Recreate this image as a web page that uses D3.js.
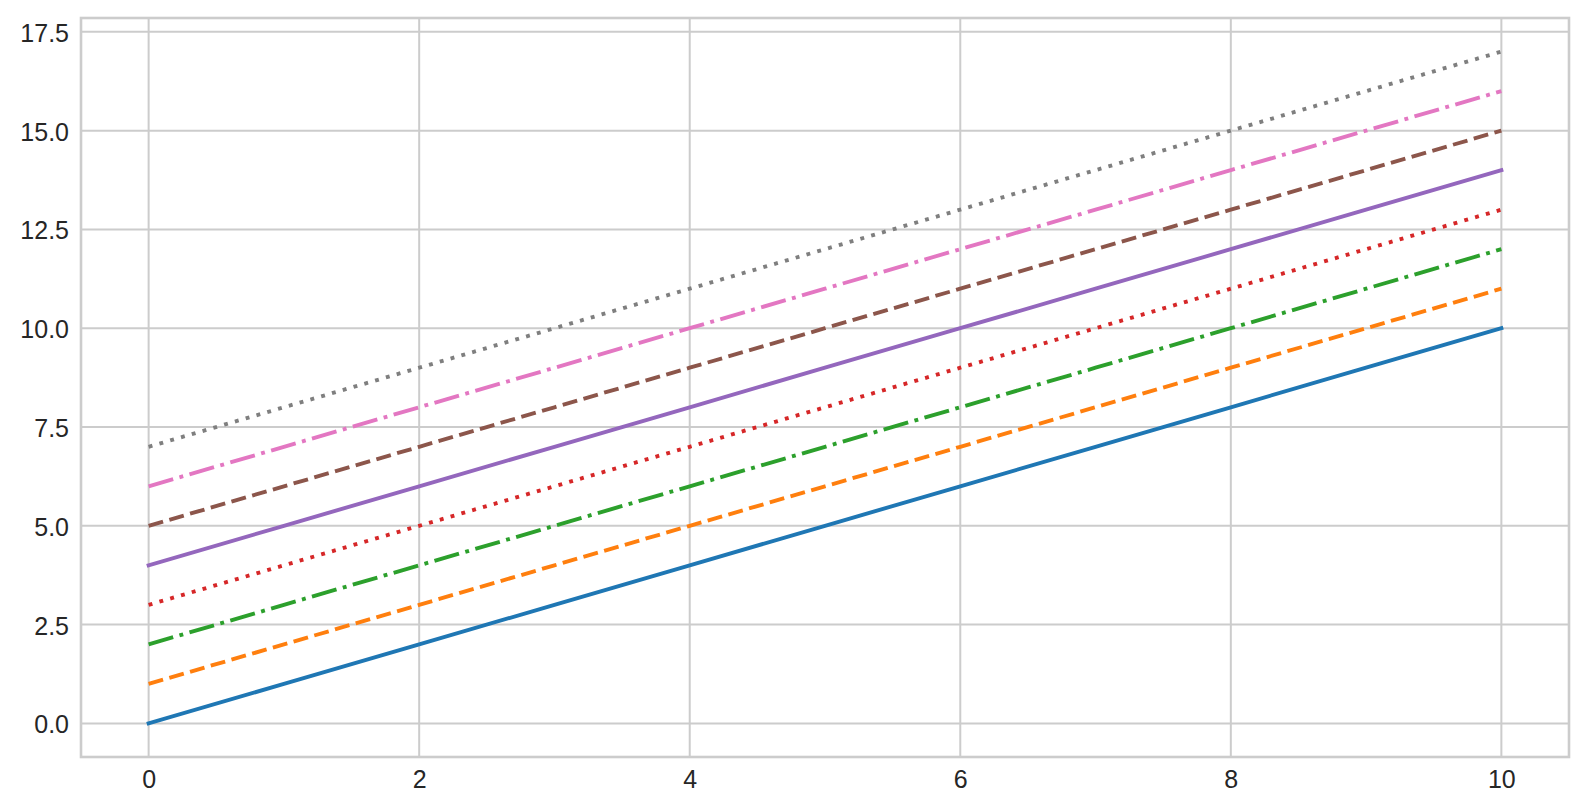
<!DOCTYPE html>
<html>
<head>
<meta charset="utf-8">
<script src="https://cdn.jsdelivr.net/npm/d3@7"></script>
<style>
  html, body { margin: 0; padding: 0; background: #fff; }
  svg { display: block; }
  text { font-family: "Liberation Sans", Arial, sans-serif; }
</style>
</head>
<body>
<svg id="chart" width="1587" height="810"></svg>
<script>
// ---- data ----
const xValues = [0, 1, 2, 3, 4, 5, 6, 7, 8, 9, 10];
const series0 = [0, 1, 2, 3, 4, 5, 6, 7, 8, 9, 10];
const series1 = [1, 2, 3, 4, 5, 6, 7, 8, 9, 10, 11];
const series2 = [2, 3, 4, 5, 6, 7, 8, 9, 10, 11, 12];
const series3 = [3, 4, 5, 6, 7, 8, 9, 10, 11, 12, 13];
const series4 = [4, 5, 6, 7, 8, 9, 10, 11, 12, 13, 14];
const series5 = [5, 6, 7, 8, 9, 10, 11, 12, 13, 14, 15];
const series6 = [6, 7, 8, 9, 10, 11, 12, 13, 14, 15, 16];
const series7 = [7, 8, 9, 10, 11, 12, 13, 14, 15, 16, 17];
const seriesColors = ["#1f77b4", "#ff7f0e", "#2ca02c", "#d62728", "#9467bd", "#8c564b", "#e377c2", "#7f7f7f"];
const seriesStyles = ["solid", "dashed", "dashdot", "dotted", "solid", "dashed", "dashdot", "dotted"];
const xTicks = [0, 2, 4, 6, 8, 10];
const yTicks = [0, 2.5, 5, 7.5, 10, 12.5, 15, 17.5];

const allSeries = [series0, series1, series2, series3, series4, series5, series6, series7];

// ---- layout ----
const svg = d3.select("#chart");
const plotLeft = 81, plotRight = 1569, plotTop = 18, plotBottom = 757;
const lw = 3.9;
const dashMap = {
  solid: null,
  dashed: [3.7 * lw + 0.6, 1.6 * lw + 0.3].join(","),
  dashdot: [6.4 * lw + 0.6, 1.6 * lw + 0.3, 1 * lw, 1.6 * lw + 0.3].join(","),
  dotted: [1 * lw, 1.65 * lw + 0.9].join(",")
};

const x = d3.scaleLinear().domain([-0.5, 10.5]).range([plotLeft, plotRight]);
const y = d3.scaleLinear().domain([-0.85, 17.85]).range([plotBottom, plotTop]);

// grid
const grid = svg.append("g");
grid.selectAll("line.v").data(xTicks).enter().append("line")
  .attr("x1", d => x(d)).attr("x2", d => x(d))
  .attr("y1", plotTop).attr("y2", plotBottom)
  .attr("stroke", "#cccccc").attr("stroke-width", 2);
grid.selectAll("line.h").data(yTicks).enter().append("line")
  .attr("y1", d => y(d)).attr("y2", d => y(d))
  .attr("x1", plotLeft).attr("x2", plotRight)
  .attr("stroke", "#cccccc").attr("stroke-width", 2);

// lines
const line = d3.line().x((d, i) => x(xValues[i])).y(d => y(d));
allSeries.forEach((s, i) => {
  const p = svg.append("path")
    .attr("d", line(s))
    .attr("fill", "none")
    .attr("stroke", seriesColors[i])
    .attr("stroke-width", lw)
    .attr("stroke-linecap", seriesStyles[i] === "solid" ? "square" : "butt");
  if (dashMap[seriesStyles[i]]) p.attr("stroke-dasharray", dashMap[seriesStyles[i]]);
});

// frame
svg.append("rect")
  .attr("x", plotLeft).attr("y", plotTop)
  .attr("width", plotRight - plotLeft).attr("height", plotBottom - plotTop)
  .attr("fill", "none").attr("stroke", "#cccccc").attr("stroke-width", 2.6);

// axes (labels only, no tick marks)
const xAxis = d3.axisBottom(x).tickValues(xTicks).tickSize(0).tickPadding(13).tickFormat(d3.format("d"));
const yAxis = d3.axisLeft(y).tickValues(yTicks).tickSize(0).tickPadding(12).tickFormat(d3.format(".1f"));

const gx = svg.append("g").attr("transform", `translate(0,${plotBottom})`).call(xAxis);
const gy = svg.append("g").attr("transform", `translate(${plotLeft},1.5)`).call(yAxis);
[gx, gy].forEach(g => {
  g.select(".domain").remove();
  g.selectAll("text").attr("fill", "#262626").style("font-size", "25px")
    .style("font-family", "'Liberation Sans', Arial, sans-serif");
});
</script>
</body>
</html>
